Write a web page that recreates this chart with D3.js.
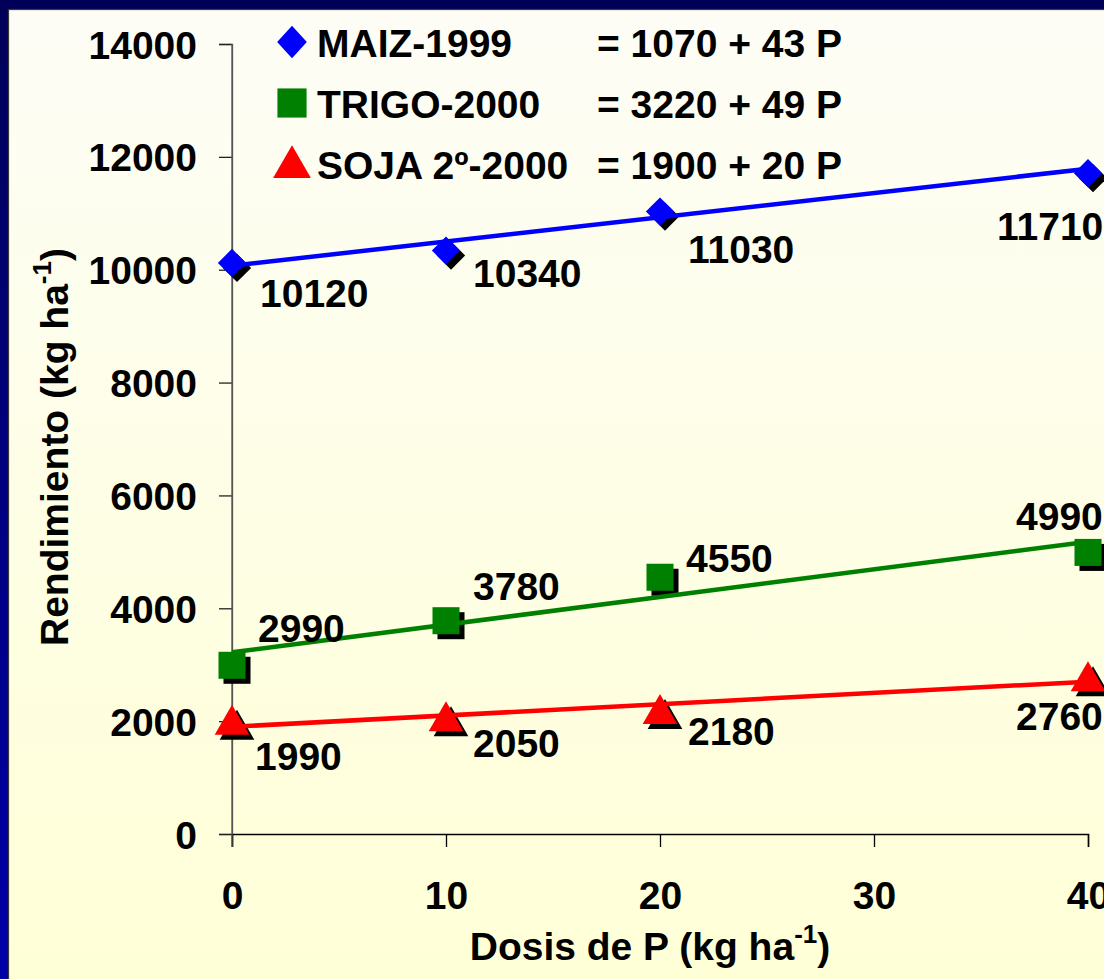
<!DOCTYPE html>
<html>
<head>
<meta charset="utf-8">
<script src="https://cdn.jsdelivr.net/npm/d3@7"></script>
<style>
  html, body { margin: 0; padding: 0; background: #fff; }
  svg { display: block; }
  text { font-family: "Liberation Sans", Arial, sans-serif; font-weight: bold; fill: #000; }
</style>
</head>
<body>
<svg id="chart" width="1104" height="979"></svg>
<script>
// ---- data ----
const doses = [0, 10, 20, 40];
const seriesNames = ["MAIZ-1999", "TRIGO-2000", "SOJA 2º-2000"];
const equations = ["= 1070 + 43 P", "= 3220 + 49 P", "= 1900 + 20 P"];
const maiz = [10120, 10340, 11030, 11710];
const trigo = [2990, 3780, 4550, 4990];
const soja = [1990, 2050, 2180, 2760];
// fitted line values at the ends (P = 0 and P = 40)
const fitDoses = [0, 40];
const maizFit = [10070, 11790];
const trigoFit = [3220, 5180];
const sojaFit = [1900, 2700];
const yTicks = [0, 2000, 4000, 6000, 8000, 10000, 12000, 14000];
const xTicks = [0, 10, 20, 30, 40];

// ---- layout / style (not data) ----
const colors = ["#0000ff", "#008000", "#ff0000"];
const shapes = [d3.symbolSquare, d3.symbolSquare, d3.symbolTriangle];
const rotations = [45, 0, 0];
const labelOffsets = [
  [[28, 44], [27, 36], [28, 51], [-91, 67]],
  [[26, -23], [27, -21], [26, -5], [-72, -22]],
  [[23, 48], [27, 39], [28, 34], [-72, 52]]
];

const svg = d3.select("#chart");
const W = 1104, H = 979;

const defs = svg.append("defs");
const fg = defs.append("linearGradient").attr("id", "frameGrad").attr("x1", 0).attr("y1", 0).attr("x2", 0).attr("y2", 1);
fg.append("stop").attr("offset", "0%").attr("stop-color", "#000058");
fg.append("stop").attr("offset", "100%").attr("stop-color", "#0000a8");
const pg = defs.append("linearGradient").attr("id", "panelGrad").attr("x1", 0).attr("y1", 0).attr("x2", 0).attr("y2", 1);
pg.append("stop").attr("offset", "0%").attr("stop-color", "#fdfdf6");
pg.append("stop").attr("offset", "100%").attr("stop-color", "#ffffd6");

svg.append("rect").attr("x", 0).attr("y", 0).attr("width", W).attr("height", H).attr("fill", "url(#frameGrad)");
svg.append("rect").attr("x", 8.5).attr("y", 9.5).attr("width", W + 10).attr("height", H + 10)
  .attr("fill", "url(#panelGrad)").attr("stroke", "#3a3a3a").attr("stroke-width", 1.2);

const x = d3.scaleLinear().domain([0, 40]).range([232, 1088]);
const y = d3.scaleLinear().domain([0, 14000]).range([834, 44]);

// axes
const yAxis = svg.append("g").attr("transform", `translate(${x(0)},0)`)
  .call(d3.axisLeft(y).tickValues(yTicks).tickFormat(d3.format("d")).tickSize(13).tickPadding(22));
yAxis.select(".domain").attr("stroke", "#555").attr("stroke-width", 1.3);
yAxis.selectAll(".tick line").attr("stroke", "#222").attr("stroke-width", 1.3);
yAxis.selectAll(".tick text").attr("font-size", 39).attr("dy", "0.36em")
  .attr("font-family", "Liberation Sans, Arial, sans-serif").attr("font-weight", "bold").attr("fill", "#000");

const xAxis = svg.append("g").attr("transform", `translate(0,${y(0)})`)
  .call(d3.axisBottom(x).tickValues(xTicks).tickFormat(d3.format("d")).tickSize(13).tickPadding(34));
xAxis.select(".domain").attr("stroke", "#000").attr("stroke-width", 1.5);
xAxis.selectAll(".tick line").attr("stroke", "#000").attr("stroke-width", 1.3);
xAxis.selectAll(".tick text").attr("font-size", 39).attr("dy", "0.71em")
  .attr("font-family", "Liberation Sans, Arial, sans-serif").attr("font-weight", "bold").attr("fill", "#000");
svg.append("line").attr("x1", x(0)).attr("x2", x(0)).attr("y1", y(14000)).attr("y2", y(0) + 13)
  .attr("stroke", "#555").attr("stroke-width", 1.3);

// axis titles
const xt = svg.append("text").attr("x", 650).attr("y", 960).attr("text-anchor", "middle").attr("font-size", 39);
xt.append("tspan").text("Dosis de P (kg ha");
xt.append("tspan").attr("dy", -17).attr("font-size", 26).text("-1");
xt.append("tspan").attr("dy", 17).text(")");

const yt = svg.append("text").attr("transform", "translate(68,447) rotate(-90)").attr("text-anchor", "middle").attr("font-size", 39);
yt.append("tspan").text("Rendimiento (kg ha");
yt.append("tspan").attr("dy", -17).attr("font-size", 26).text("-1");
yt.append("tspan").attr("dy", 17).text(")");

// series
const series = [maiz, trigo, soja];
const fits = [maizFit, trigoFit, sojaFit];
const symSize = [400, 730, 520];

series.forEach((vals, si) => {
  const g = svg.append("g");
  const sym = d3.symbol().type(shapes[si]).size(symSize[si]);
  const pts = vals.map((v, i) => ({ px: doses[i], v }));
  const yo = si === 2 ? 3 : 0;
  g.selectAll(".shadow").data(pts).join("path")
    .attr("d", sym)
    .attr("transform", d => `translate(${x(d.px) + 5},${y(d.v) + 5 + yo}) rotate(${rotations[si]})`)
    .attr("fill", "#000");
  g.selectAll(".mk").data(pts).join("path")
    .attr("d", sym)
    .attr("transform", d => `translate(${x(d.px)},${y(d.v) + yo}) rotate(${rotations[si]})`)
    .attr("fill", colors[si]);
  const line = d3.line().x(d => x(d[0])).y(d => y(d[1]));
  g.append("path").datum(fitDoses.map((p, i) => [p, fits[si][i]]))
    .attr("d", line).attr("fill", "none").attr("stroke", colors[si]).attr("stroke-width", 4.5);
  g.selectAll(".lbl").data(pts).join("text")
    .attr("x", (d, i) => x(d.px) + labelOffsets[si][i][0])
    .attr("y", (d, i) => y(d.v) + labelOffsets[si][i][1])
    .attr("font-size", 39)
    .text(d => d.v);
});

// legend
const legY = [42, 103, 164];
seriesNames.forEach((name, i) => {
  const sym = d3.symbol().type(shapes[i]).size(i === 0 ? 440 : i === 1 ? 850 : 620);
  svg.append("path").attr("d", sym)
    .attr("transform", `translate(292,${legY[i] + (i === 2 ? 3 : 0)}) scale(1,${i === 0 ? 1.1 : 1}) rotate(${rotations[i]})`)
    .attr("fill", colors[i]);
  svg.append("text").attr("x", 317).attr("y", legY[i] + 15).attr("font-size", 39).text(name);
  svg.append("text").attr("x", 597).attr("y", legY[i] + 15).attr("font-size", 39).text(equations[i]);
});
</script>
</body>
</html>
